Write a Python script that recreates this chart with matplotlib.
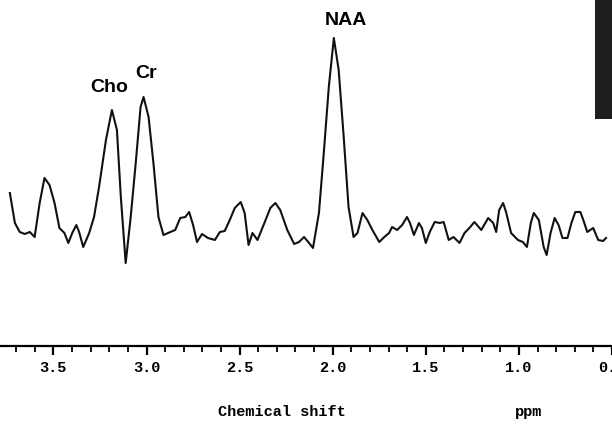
import matplotlib
matplotlib.use("Agg")
import matplotlib.pyplot as plt
from matplotlib.patches import Rectangle
import numpy as np

# chemical shift (ppm) and signal (arbitrary units)
ppm = [3.734, 3.707, 3.681, 3.654, 3.627, 3.601, 3.574, 3.548, 3.521, 3.494,
       3.468, 3.441, 3.420, 3.399, 3.377, 3.362, 3.340, 3.308, 3.282, 3.255,
       3.218, 3.186, 3.159, 3.138, 3.112, 3.085, 3.058, 3.032, 3.016, 2.989,
       2.963, 2.936, 2.909, 2.872, 2.846, 2.819, 2.792, 2.771, 2.750, 2.729,
       2.702, 2.670, 2.633, 2.606, 2.580, 2.553, 2.526, 2.494, 2.473, 2.452,
       2.431, 2.404, 2.367, 2.335, 2.308, 2.282, 2.244, 2.207, 2.181, 2.154,
       2.127, 2.106, 2.074, 2.048, 2.021, 1.994, 1.968, 1.941, 1.915, 1.888,
       1.867, 1.840, 1.814, 1.787, 1.750, 1.723, 1.697, 1.681, 1.654, 1.627,
       1.601, 1.585, 1.564, 1.537, 1.521, 1.500, 1.479, 1.452, 1.425, 1.404,
       1.377, 1.351, 1.319, 1.292, 1.266, 1.239, 1.202, 1.165, 1.138, 1.122,
       1.106, 1.085, 1.069, 1.042, 1.005, 0.979, 0.957, 0.936, 0.920, 0.893,
       0.867, 0.851, 0.830, 0.808, 0.787, 0.766, 0.739, 0.718, 0.697, 0.670,
       0.654, 0.633, 0.601, 0.574, 0.548, 0.532]
signal = [4.7, 1.7, 0.8, 0.6, 0.8, 0.3, 3.7, 6.2, 5.5, 3.7,
          1.2, 0.7, -0.3, 0.7, 1.5, 0.8, -0.7, 0.7, 2.3, 5.3,
          10.0, 13.0, 11.0, 4.3, -2.3, 2.3, 7.7, 13.3, 14.3, 12.3,
          7.7, 2.3, 0.5, 0.8, 1.0, 2.2, 2.3, 2.8, 1.5, -0.2,
          0.6, 0.2, 0.0, 0.8, 0.9, 2.0, 3.2, 3.8, 2.7, -0.5,
          0.7, 0.0, 1.7, 3.2, 3.7, 3.0, 1.0, -0.4, -0.2, 0.3,
          -0.3, -0.8, 2.7, 8.7, 15.3, 20.2, 17.0, 10.3, 3.3, 0.3,
          0.7, 2.7, 2.0, 1.0, -0.2, 0.3, 0.7, 1.3, 1.0, 1.5,
          2.3, 1.7, 0.5, 1.7, 1.2, -0.3, 0.8, 1.8, 1.7, 1.8,
          0.0, 0.3, -0.3, 0.7, 1.2, 1.8, 1.0, 2.2, 1.7, 0.8,
          3.0, 3.7, 2.8, 0.7, 0.0, -0.2, -0.7, 1.7, 2.7, 2.0,
          -0.7, -1.5, 0.7, 2.2, 1.5, 0.2, 0.2, 1.7, 2.8, 2.8,
          2.0, 0.8, 1.2, 0.0, -0.1, 0.2]

peak_names = ["Cho", "Cr", "NAA"]
peak_ppm = [3.202, 3.005, 1.930]
peak_label_y = [15.2, 16.6, 21.9]

major_ticks = [3.5, 3.0, 2.5, 2.0, 1.5, 1.0, 0.5]

fig = plt.figure(figsize=(6.12, 4.28), dpi=100)
ax = fig.add_axes([0, 0.1916, 1, 0.8084])

ax.plot(ppm, signal, color="#111111", linewidth=1.5, solid_joinstyle="round")

ax.set_xlim(3.787, 0.532)
ax.set_ylim(-10.6, 24.0)

for s in ["left", "right", "top"]:
    ax.spines[s].set_visible(False)
ax.spines["bottom"].set_linewidth(1.6)
ax.set_yticks([])

ax.set_xticks(major_ticks)
ax.set_xticklabels(["%.1f" % t for t in major_ticks])
ax.set_xticks(np.arange(0.6, 3.8, 0.1), minor=True)
ax.tick_params(axis="x", which="major", direction="out", length=6.5, width=1.6, pad=4)
ax.tick_params(axis="x", which="minor", direction="out", length=4.3, width=1.3)
for lbl in ax.get_xticklabels():
    lbl.set_family("Liberation Mono")
    lbl.set_weight("bold")
    lbl.set_fontsize(11)

for name, x, y in zip(peak_names, peak_ppm, peak_label_y):
    ax.text(x, y, name, ha="center", va="center", fontsize=14,
            fontweight="bold", family="Liberation Sans")

fig.text(0.461, 0.0374, "Chemical shift", ha="center", va="center",
         family="Liberation Mono", fontweight="bold", fontsize=11)
fig.text(0.863, 0.0374, "ppm", ha="center", va="center",
         family="Liberation Mono", fontweight="bold", fontsize=11)

fig.add_artist(Rectangle((0.972, 0.722), 0.03, 0.28, transform=fig.transFigure,
                         facecolor="#1e1e1e", edgecolor="none"))

plt.savefig("out.png", dpi=100)
